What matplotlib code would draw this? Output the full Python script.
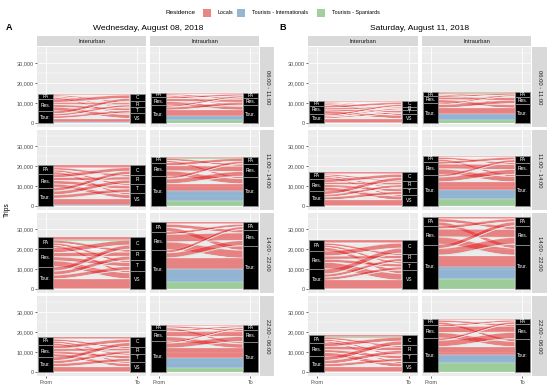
import numpy as np
import matplotlib
matplotlib.use("Agg")
import matplotlib.pyplot as plt
from matplotlib.patches import Rectangle

# ---------------- data ----------------
days = ["Wednesday, August 08, 2018", "Saturday, August 11, 2018"]
day_tags = ["A", "B"]
periods = ["06:00 - 11:00", "11:00 - 14:00", "14:00 - 22:00", "22:00 - 06:00"]
trip_types = ["Interurban", "Intraurban"]
origins = ["PA", "Res.", "Tour."]
dest_inter = ["C", "R", "T", "VS"]
dest_intra = ["PA", "Res.", "Tour."]
residences = ["Locals", "Tourists - Internationals", "Tourists - Spaniards"]
res_colors = ["#E41A1C", "#377EB8", "#4DAF4A"]
axis_labels = ["From", "To"]
y_ticks = [0, 10000, 20000, 30000]
y_tick_labels = ["0", "10,000", "20,000", "30,000"]

# trips: rows = origin (PA, Res., Tour.), cols = destination; one matrix per period
wed_inter_locals = [
    [[700, 600, 500, 700], [1500, 1000, 1100, 1700], [1200, 900, 1000, 1900]],
    [[1200, 1000, 900, 1000], [1600, 1400, 1500, 1700], [1400, 1600, 1500, 3300]],
    [[1400, 1200, 1100, 1100], [2200, 1900, 1800, 2800], [1800, 1700, 1700, 4700]],
    [[1300, 900, 900, 900], [1600, 1100, 1200, 1400], [1600, 1300, 1400, 2400]],
]
wed_inter_intl = [
    [[50, 50, 50, 50], [150, 100, 100, 150], [150, 100, 150, 400]],
    [[50, 100, 50, 50], [150, 100, 100, 150], [200, 150, 200, 450]],
    [[100, 100, 50, 100], [150, 100, 150, 200], [200, 150, 150, 300]],
    [[50, 50, 50, 50], [100, 100, 100, 100], [150, 100, 150, 200]],
]
wed_inter_span = [
    [[30, 20, 20, 30], [60, 40, 50, 50], [100, 50, 80, 70]],
    [[50, 50, 30, 20], [50, 50, 50, 50], [100, 100, 100, 100]],
    [[50, 50, 30, 20], [100, 80, 60, 60], [100, 100, 100, 100]],
    [[50, 50, 50, 50], [50, 50, 50, 50], [100, 50, 100, 50]],
]
sat_inter_locals = [
    [[750, 350, 450, 750], [1050, 650, 750, 1450], [850, 500, 600, 2050]],
    [[1000, 700, 700, 800], [1500, 1100, 1200, 1700], [1500, 1100, 1300, 2800]],
    [[1700, 1000, 1000, 1600], [2300, 1400, 1400, 3100], [2300, 1300, 1300, 4100]],
    [[1000, 900, 800, 800], [1700, 1500, 1300, 1700], [1900, 1600, 1300, 2400]],
]
sat_inter_intl = [
    [[40, 20, 20, 40], [50, 30, 40, 80], [50, 30, 50, 270]],
    [[50, 50, 50, 50], [100, 50, 100, 100], [150, 100, 100, 250]],
    [[100, 50, 50, 100], [150, 100, 100, 150], [200, 100, 150, 250]],
    [[50, 50, 50, 50], [100, 100, 50, 50], [100, 100, 100, 200]],
]
sat_inter_span = [
    [[30, 10, 10, 30], [40, 20, 10, 30], [50, 30, 40, 80]],
    [[30, 20, 20, 30], [50, 30, 30, 40], [80, 70, 80, 70]],
    [[50, 50, 50, 50], [100, 50, 50, 100], [100, 100, 100, 100]],
    [[30, 30, 20, 20], [50, 50, 50, 50], [100, 50, 100, 50]],
]
wed_intra_locals = [
    [[700, 600, 600], [800, 1300, 1600], [800, 1300, 2700]],
    [[900, 1000, 1000], [1300, 2500, 2400], [1100, 2200, 3500]],
    [[900, 1500, 2000], [1100, 3600, 3800], [1200, 2300, 5500]],
    [[600, 800, 1000], [700, 2400, 2000], [800, 2300, 4650]],
]
wed_intra_intl = [
    [[50, 50, 50], [100, 100, 100], [100, 100, 2300]],
    [[50, 50, 50], [100, 100, 150], [150, 150, 4800]],
    [[50, 100, 100], [100, 150, 100], [150, 200, 6500]],
    [[50, 50, 50], [50, 100, 100], [100, 200, 4900]],
]
wed_intra_span = [
    [[50, 50, 50], [50, 50, 100], [100, 100, 1500]],
    [[50, 50, 50], [50, 100, 100], [100, 150, 2800]],
    [[50, 50, 50], [50, 100, 100], [100, 150, 3500]],
    [[50, 50, 50], [50, 100, 100], [50, 100, 2400]],
]
sat_intra_locals = [
    [[500, 500, 500], [700, 1200, 1500], [600, 1500, 2900]],
    [[800, 900, 1000], [1200, 2300, 2500], [1100, 2200, 3700]],
    [[1000, 1500, 1800], [1400, 3800, 3300], [1800, 3100, 5900]],
    [[600, 900, 1200], [800, 2800, 2500], [1000, 2900, 3800]],
]
sat_intra_intl = [
    [[30, 30, 40], [50, 50, 50], [100, 100, 3000]],
    [[50, 50, 50], [50, 100, 100], [150, 150, 4800]],
    [[100, 100, 50], [100, 150, 150], [150, 200, 6000]],
    [[50, 50, 50], [50, 150, 100], [100, 150, 4200]],
]
sat_intra_span = [
    [[30, 30, 40], [50, 50, 50], [100, 100, 1700]],
    [[50, 50, 50], [50, 100, 100], [100, 100, 3600]],
    [[50, 50, 50], [100, 150, 150], [100, 150, 5000]],
    [[50, 50, 50], [50, 150, 100], [50, 150, 4700]],
]

day_data = [
    {"Interurban": (wed_inter_locals, wed_inter_intl, wed_inter_span),
     "Intraurban": (wed_intra_locals, wed_intra_intl, wed_intra_span)},
    {"Interurban": (sat_inter_locals, sat_inter_intl, sat_inter_span),
     "Intraurban": (sat_intra_locals, sat_intra_intl, sat_intra_span)},
]

# ---------------- layout ----------------
W, H = 550, 388
plt.rcParams['font.family'] = ['Liberation Sans', 'DejaVu Sans']
fig = plt.figure(figsize=(W / 100, H / 100), dpi=100)
fig.patch.set_facecolor("white")


def fx(x):
    return x / W


def fy(y):
    return 1 - y / H


def ax_at(x0, y0, x1, y1):
    return fig.add_axes([x0 / W, 1 - y1 / H, (x1 - x0) / W, (y1 - y0) / H])


col_x = [[(37, 146), (150, 259)], [(308, 418), (422, 531)]]
rstrip_x = [(260, 274), (532, 547)]
row_y = [(47, 127), (130, 210), (213, 293), (296, 376)]
tstrip_y = (36, 46)
title_cx = [148, 420]
tag_x = [9, 283]

STRAT_W = 1 / 6
YLIM = (-1820, 38220)
XLIM = (0.905, 2.095)
tick_fs = 4.0
strip_fs = 4.2
lab_fs = 3.5
t = np.linspace(0, 1, 60)
sm = 3 * t ** 2 - 2 * t ** 3


def draw_panel(ax, mats, dests):
    vals = np.array(mats, dtype=float)  # (res, origin, dest)
    n_r, n_o, n_d = vals.shape
    total = vals.sum()
    ly, ry = {}, {}
    y = total
    for o in range(n_o):
        for d in range(n_d):
            for r in range(n_r):
                v = vals[r, o, d]
                ly[(r, o, d)] = (y - v, y)
                y -= v
    y = total
    for d in range(n_d):
        for o in range(n_o):
            for r in range(n_r):
                v = vals[r, o, d]
                ry[(r, o, d)] = (y - v, y)
                y -= v
    xa, xb = 1 + STRAT_W / 2, 2 - STRAT_W / 2
    xs = xa + (xb - xa) * t
    for key in ly:
        r = key[0]
        if vals[key] <= 0:
            continue
        lb, lt = ly[key]
        rb, rt = ry[key]
        top = lt + (rt - lt) * sm
        bot = lb + (rb - lb) * sm
        ax.fill(np.concatenate([xs, xs[::-1]]), np.concatenate([top, bot[::-1]]),
                facecolor=matplotlib.colors.to_rgba(res_colors[r], 0.5),
                edgecolor=(1, 1, 1, 0.5), linewidth=0.3, zorder=2)
    # strata
    for xc, names, tots in ((1, origins, vals.sum(axis=(0, 2))),
                            (2, dests, vals.sum(axis=(0, 1)))):
        y = total
        for name, v in zip(names, tots):
            ax.add_patch(Rectangle((xc - STRAT_W / 2, y - v), STRAT_W, v,
                                   facecolor="black", edgecolor="#8C8C8C",
                                   linewidth=0.6, zorder=3))
            ax.text(xc, y - v / 2, name, color="white", fontsize=lab_fs,
                    ha="center", va="center", zorder=4)
            y -= v


for di in range(2):
    fig.text(fx(title_cx[di]), fy(28), days[di], fontsize=6.1, ha="center",
             va="center", color="black")
    fig.text(fx(tag_x[di]), fy(28), day_tags[di], fontsize=6.5, fontweight="bold",
             ha="center", va="center")
    for ci, ttype in enumerate(trip_types):
        x0, x1 = col_x[di][ci]
        sax = ax_at(x0, tstrip_y[0], x1, tstrip_y[1])
        sax.set_facecolor("#D9D9D9")
        sax.set_xticks([]); sax.set_yticks([])
        for s in sax.spines.values():
            s.set_visible(False)
        sax.text(0.5, 0.45, ttype, fontsize=strip_fs, color="#1A1A1A",
                 ha="center", va="center", transform=sax.transAxes)
        locs, intl, span = day_data[di][ttype]
        dests = dest_inter if ttype == "Interurban" else dest_intra
        for ri in range(4):
            y0, y1 = row_y[ri]
            ax = ax_at(x0, y0, x1, y1)
            ax.set_facecolor("#EBEBEB")
            for s in ax.spines.values():
                s.set_visible(False)
            ax.set_xlim(*XLIM)
            ax.set_ylim(*YLIM)
            ax.set_xticks([1, 2])
            ax.set_yticks(y_ticks)
            ax.set_yticks([5000, 15000, 25000, 35000], minor=True)
            ax.grid(which="major", color="white", linewidth=0.6, zorder=0)
            ax.grid(which="minor", axis="y", color="white", linewidth=0.3, zorder=0)
            ax.set_axisbelow(True)
            draw_panel(ax, [locs[ri], intl[ri], span[ri]], dests)
            ax.tick_params(which="minor", length=0)
            ax.tick_params(which="major", length=1.6, width=0.5, color="#333333",
                           labelsize=tick_fs, labelcolor="#4D4D4D", pad=1)
            if ci == 0:
                ax.set_yticklabels(y_tick_labels)
            else:
                ax.tick_params(axis="y", length=0, labelleft=False)
            if ri == 3:
                ax.set_xticklabels(axis_labels)
            else:
                ax.tick_params(axis="x", length=0, labelbottom=False)
    for ri in range(4):
        y0, y1 = row_y[ri]
        sax = ax_at(rstrip_x[di][0], y0, rstrip_x[di][1], y1)
        sax.set_facecolor("#D9D9D9")
        sax.set_xticks([]); sax.set_yticks([])
        for s in sax.spines.values():
            s.set_visible(False)
        sax.text(0.5, 0.5, periods[ri], fontsize=strip_fs, color="#1A1A1A",
                 rotation=-90, ha="center", va="center", transform=sax.transAxes)

fig.text(fx(7), fy(210), "Trips", rotation=90, fontsize=4.8, ha="center", va="center")

fig.text(fx(165), fy(12.7), "Residence", fontsize=4.6, ha="left", va="center")
key_x = [203, 237, 317]
lab_x = [217, 252, 332]
for k in range(3):
    fig.patches.append(Rectangle((fx(key_x[k]), fy(16.5)), 7.5 / W, 7.5 / H,
                                 transform=fig.transFigure, facecolor="#F2F2F2",
                                 edgecolor="none"))
    fig.patches.append(Rectangle((fx(key_x[k]), fy(16.5)), 7.5 / W, 7.5 / H,
                                 transform=fig.transFigure,
                                 facecolor=matplotlib.colors.to_rgba(res_colors[k], 0.5),
                                 edgecolor="none"))
    fig.text(fx(lab_x[k]), fy(12.7), residences[k], fontsize=3.9, ha="left", va="center")

fig.savefig("out.png", dpi=100)
